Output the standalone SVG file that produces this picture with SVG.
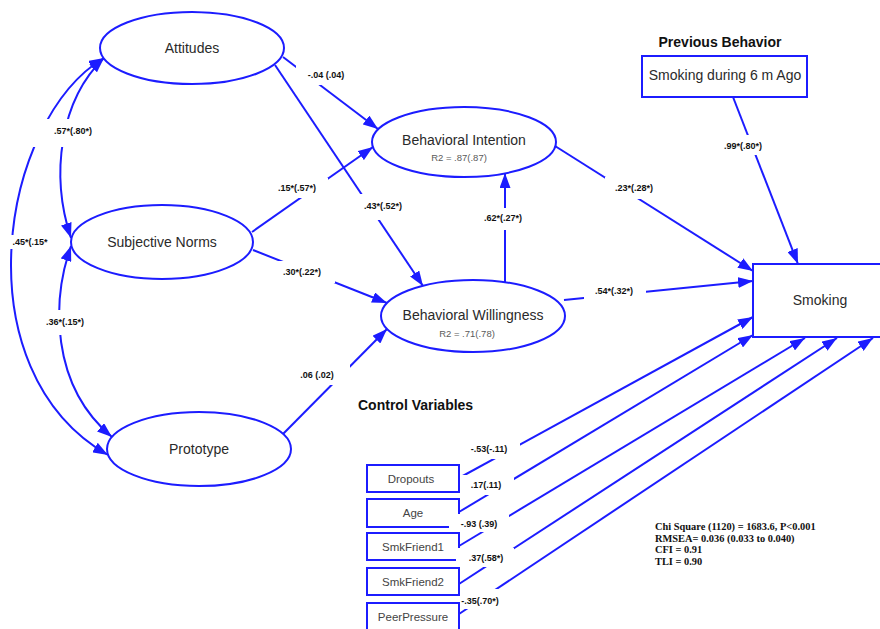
<svg xmlns="http://www.w3.org/2000/svg" width="880" height="629" viewBox="0 0 880 629">
<defs>
<marker id="ah" markerUnits="userSpaceOnUse" markerWidth="15" markerHeight="11" refX="15" refY="5.5" orient="auto-start-reverse"><path d="M0,0 L15,5.5 L0,11 z" fill="#1c1cff"/></marker>
</defs>
<style>
.nd{fill:#fff;stroke:#1c1cff;stroke-width:2}
.cn{fill:none;stroke:#1c1cff;stroke-width:2}
.nt{font-family:"Liberation Sans",Arial,sans-serif;font-size:14px;fill:#2a2a2a;text-anchor:middle}
.r2{font-family:"Liberation Sans",Arial,sans-serif;font-size:9.5px;fill:#5a5a5a;text-anchor:middle}
.ct{font-family:"Liberation Sans",Arial,sans-serif;font-size:11.5px;fill:#444;text-anchor:middle}
.ti{font-family:"Liberation Sans",Arial,sans-serif;font-size:14px;font-weight:bold;fill:#111}
.lb{font-family:"Liberation Sans",Arial,sans-serif;font-size:9px;font-weight:bold;fill:#111;text-anchor:middle}
.bg{fill:#fff}
.st{font-family:"Liberation Serif","Times New Roman",serif;font-size:10.4px;font-weight:bold;fill:#111}
</style>
<rect width="880" height="629" fill="#fff"/>

<g id="connectors">
<path class="cn" d="M283,57 L378,129" marker-end="url(#ah)"/>
<path class="cn" d="M275,65 L423,286" marker-end="url(#ah)"/>
<path class="cn" d="M252,232 L373,147" marker-end="url(#ah)"/>
<path class="cn" d="M253,250 L387,303" marker-end="url(#ah)"/>
<path class="cn" d="M283,434 L387,329" marker-end="url(#ah)"/>
<path class="cn" d="M505,282 L505,173" marker-end="url(#ah)"/>
<path class="cn" d="M555,146 L753,271" marker-end="url(#ah)"/>
<path class="cn" d="M564,300 L753,281" marker-end="url(#ah)"/>
<path class="cn" d="M733,97 L798,264" marker-end="url(#ah)"/>
<path class="cn" d="M459,478 L753,317" marker-end="url(#ah)"/>
<path class="cn" d="M459,512 L753,335" marker-end="url(#ah)"/>
<path class="cn" d="M459,546 L805,338" marker-end="url(#ah)"/>
<path class="cn" d="M459,584 L837,338" marker-end="url(#ah)"/>
<path class="cn" d="M459,614 L873,338" marker-end="url(#ah)"/>
<path class="cn" d="M104,58 C0,120 -40,370 108,455" marker-start="url(#ah)" marker-end="url(#ah)"/>
<path class="cn" d="M104,58 C60,100 50,175 71,238" marker-start="url(#ah)" marker-end="url(#ah)"/>
<path class="cn" d="M71,246 C52,300 50,385 112,437" marker-start="url(#ah)" marker-end="url(#ah)"/>
</g>

<g id="node-attitudes"><ellipse class="nd" cx="192" cy="48" rx="92" ry="36"/><text class="nt" x="192" y="53">Attitudes</text></g>
<g id="node-subjective-norms"><ellipse class="nd" cx="162" cy="242" rx="91" ry="37"/><text class="nt" x="162" y="247">Subjective Norms</text></g>
<g id="node-prototype"><ellipse class="nd" cx="199" cy="449" rx="92" ry="37"/><text class="nt" x="199" y="454">Prototype</text></g>
<g id="node-behavioral-intention"><ellipse class="nd" cx="464" cy="142" rx="92" ry="35"/><text class="nt" x="464" y="145">Behavioral Intention</text><text class="r2" x="459" y="161">R2 = .87(.87)</text></g>
<g id="node-behavioral-willingness"><ellipse class="nd" cx="473" cy="316" rx="92" ry="36"/><text class="nt" x="473" y="320">Behavioral Willingness</text><text class="r2" x="467" y="337">R2 = .71(.78)</text></g>
<g id="node-previous-behavior"><text class="ti" x="720" y="47" text-anchor="middle">Previous Behavior</text><rect class="nd" x="642" y="56" width="165" height="41"/><text class="nt" x="725" y="80">Smoking during 6 m Ago</text></g>
<g id="node-smoking"><rect class="nd" x="753" y="264" width="140" height="73"/><text class="nt" x="820" y="305">Smoking</text></g>
<g id="control-title"><text class="ti" x="358" y="410">Control Variables</text></g>
<g id="node-dropouts"><rect class="nd" x="367" y="465" width="92" height="27"/><text class="ct" x="411" y="483">Dropouts</text></g>
<g id="node-age"><rect class="nd" x="367" y="499" width="92" height="28"/><text class="ct" x="413" y="517">Age</text></g>
<g id="node-smkfriend1"><rect class="nd" x="367" y="533" width="92" height="27"/><text class="ct" x="413" y="551">SmkFriend1</text></g>
<g id="node-smkfriend2"><rect class="nd" x="367" y="568" width="92" height="27"/><text class="ct" x="413" y="586">SmkFriend2</text></g>
<g id="node-peerpressure"><rect class="nd" x="367" y="603" width="92" height="30"/><text class="ct" x="413" y="621">PeerPressure</text></g>

<g id="labels">
<rect class="bg" x="296" y="65" width="60" height="20"/><text class="lb" x="326" y="78">-.04 (.04)</text>
<rect class="bg" x="266" y="178" width="62" height="20"/><text class="lb" x="297" y="191">.15*(.57*)</text>
<rect class="bg" x="356" y="194" width="54" height="26"/><text class="lb" x="383" y="209">.43*(.52*)</text>
<rect class="bg" x="273" y="261" width="62" height="22"/><text class="lb" x="302" y="275">.30*(.22*)</text>
<rect class="bg" x="478" y="208" width="52" height="22"/><text class="lb" x="503" y="221">.62*(.27*)</text>
<rect class="bg" x="292" y="364" width="58" height="21"/><text class="lb" x="317" y="378">.06 (.02)</text>
<rect class="bg" x="605" y="177" width="60" height="22"/><text class="lb" x="634" y="191">.23*(.28*)</text>
<rect class="bg" x="584" y="281" width="62" height="20"/><text class="lb" x="614" y="294">.54*(.32*)</text>
<rect class="bg" x="719" y="135" width="50" height="20"/><text class="lb" x="743" y="149">.99*(.80*)</text>
<rect class="bg" x="24" y="119" width="76" height="28"/><text class="lb" x="73" y="134">.57*(.80*)</text>
<rect class="bg" x="6" y="235" width="46" height="14"/><text class="lb" x="30" y="245">.45*(.15*</text>
<rect class="bg" x="44" y="310" width="43" height="25"/><text class="lb" x="65" y="325">.36*(.15*)</text>
<rect class="bg" x="460" y="439" width="60" height="20"/><text class="lb" x="489" y="452">-.53(-.11)</text>
<rect class="bg" x="460" y="475" width="54" height="20"/><text class="lb" x="486" y="488">.17(.11)</text>
<rect class="bg" x="449" y="514" width="60" height="18"/><text class="lb" x="479" y="527">-.93 (.39)</text>
<rect class="bg" x="456" y="548" width="58" height="19"/><text class="lb" x="486" y="561">.37(.58*)</text>
<rect class="bg" x="461" y="589" width="48" height="20"/><text class="lb" x="480" y="604">-.35(.70*)</text>
</g>

<g id="fit-stats">
<text class="st" x="655" y="530">Chi Square (1120) = 1683.6, P&lt;0.001</text>
<text class="st" x="655" y="541.5">RMSEA= 0.036 (0.033 to 0.040)</text>
<text class="st" x="655" y="553">CFI = 0.91</text>
<text class="st" x="655" y="564.5">TLI = 0.90</text>
</g>
</svg>
